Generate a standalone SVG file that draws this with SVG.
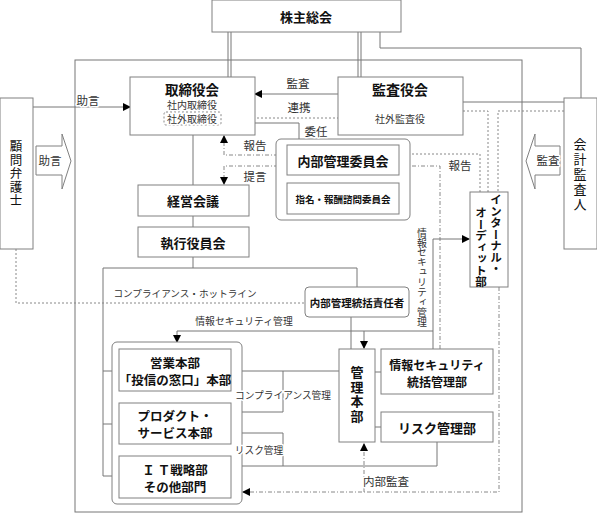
<svg xmlns="http://www.w3.org/2000/svg" width="597" height="514" viewBox="0 0 597 514">
<style>
.box{fill:#fff;stroke:#808080;stroke-width:1}
.ln{fill:none;stroke:#777;stroke-width:1}
.dot{fill:none;stroke:#888;stroke-width:1;stroke-dasharray:2,2}
.dd{fill:none;stroke:#888;stroke-width:1;stroke-dasharray:4,2,1,2}
.t{font-family:"Noto Sans CJK JP","Noto Sans",sans-serif;font-weight:bold;fill:#111;text-anchor:middle;dominant-baseline:central}
.l{font-family:"Noto Sans CJK JP","Noto Sans",sans-serif;fill:#333;text-anchor:middle;dominant-baseline:central;stroke:#fff;stroke-width:3px;paint-order:stroke;stroke-linejoin:round}
.v{writing-mode:vertical-rl}
</style>
<defs>
<marker id="ah" markerUnits="userSpaceOnUse" markerWidth="8" markerHeight="8" refX="7" refY="4" orient="auto">
<path d="M0,0 L8,4 L0,8 z" fill="#000"/>
</marker>
</defs>

<g id="connectors">
<rect x="75" y="60" width="447" height="452" class="ln"/>
<path class="ln" d="M228,32V77M231,32V77M358,32V77M361,32V77"/>
<path class="ln" d="M380,32V48H581V98"/>
<path class="ln" d="M33,107H130" marker-end="url(#ah)"/>
<path class="ln" d="M338,94H255" marker-end="url(#ah)"/>
<path class="dot" d="M221,118H338"/>
<path class="ln" d="M463,102H564"/>
<path class="dot" d="M463,111H488V192"/>
<path class="dot" d="M564,111H498V192"/>
<path class="ln" d="M255,123H299V139"/>
<path class="ln" d="M193,135V185M193,216V227M193,257V268"/>
<path class="dd" d="M287,155H224V136" marker-end="url(#ah)"/>
<path class="dd" d="M287,166H224V184" marker-end="url(#ah)"/>
<path class="dot" d="M480,192V154H400" marker-end="url(#ah)"/>
<path class="dd" d="M440,349V166H400" marker-end="url(#ah)"/>
<path class="ln" d="M357,287V268H103V476"/>
<path class="ln" d="M103,371H119M103,424H119M103,476H119"/>
<path class="dot" d="M16,249V303H305"/>
<path class="ln" d="M351,317V349"/>
<path class="ln" d="M433,349V239H469" marker-end="url(#ah)"/>
<path class="ln" d="M433,331H177V342" marker-end="url(#ah)"/>
<path class="ln" d="M364,331V348" marker-end="url(#ah)"/>
<path class="ln" d="M339,371H232" marker-end="url(#ah)"/>
<path class="ln" d="M283,371V412H232" marker-end="url(#ah)"/>
<path class="ln" d="M437,442V466H232" marker-end="url(#ah)"/>
<path class="ln" d="M283,466V433H232" marker-end="url(#ah)"/>
<path class="ln" d="M375,372H381M375,427H381"/>
<path class="dd" d="M499,287V492H243" marker-end="url(#ah)"/>
<path class="dd" d="M364,492V444" marker-end="url(#ah)"/>
</g>

<g id="n-shareholders">
<rect class="box" x="212" y="0" width="189" height="32"/>
<text class="t" x="306" y="16" font-size="13">株主総会</text>
</g>

<g id="n-board">
<rect class="box" x="130" y="77" width="125" height="58"/>
<text class="t" x="192" y="89" font-size="13.5">取締役会</text>
<text class="l" x="192" y="104" font-size="10">社内取締役</text>
<rect x="164" y="112" width="57" height="13" rx="2" class="dot"/>
<text class="l" x="192" y="118.5" font-size="10">社外取締役</text>
</g>

<g id="n-auditors">
<rect class="box" x="338" y="77" width="125" height="58"/>
<text class="t" x="400" y="89" font-size="14">監査役会</text>
<text class="l" x="400" y="118" font-size="10">社外監査役</text>
</g>

<g id="n-lawyer">
<rect class="box" x="0" y="98" width="33" height="151"/>
<text class="t v" x="16" y="174" font-size="12.5" style="font-weight:normal;letter-spacing:1px">顧問弁護士</text>
</g>

<g id="n-advice-arrow">
<path class="box" d="M36,146H62V134L71,161L62,189V175H36Z"/>
<text class="l" x="50" y="160" font-size="11.5">助言</text>
</g>

<g id="n-accountant">
<rect class="box" x="564" y="98" width="33" height="151"/>
<text class="t v" x="580" y="175" font-size="13" style="font-weight:normal;letter-spacing:2px">会計監査人</text>
</g>

<g id="n-audit-arrow">
<path class="box" d="M560,146H535V134L526,161L535,189V175H560Z"/>
<text class="l" x="548" y="160" font-size="11.5">監査</text>
</g>

<g id="n-committees">
<rect class="box" x="276" y="139" width="134" height="81" rx="5"/>
<rect class="box" x="287" y="145" width="112" height="30"/>
<text class="t" x="343" y="160" font-size="13">内部管理委員会</text>
<rect class="box" x="287" y="183" width="112" height="31"/>
<text class="t" x="343" y="198.5" font-size="9.5">指名・報酬諮問委員会</text>
</g>

<g id="n-mgmt-meeting">
<rect class="box" x="138" y="185" width="111" height="31"/>
<text class="t" x="193" y="200.5" font-size="13">経営会議</text>
</g>

<g id="n-exec">
<rect class="box" x="138" y="227" width="111" height="30"/>
<text class="t" x="193" y="242" font-size="13">執行役員会</text>
</g>

<g id="n-ia">
<rect class="box" x="470" y="192" width="38" height="95"/>
<text class="t v" x="496" y="194" font-size="11.5" style="text-anchor:start">インターナル・</text>
<text class="t v" x="481" y="207" font-size="11.5" style="text-anchor:start">オーディット部</text>
</g>

<g id="n-officer">
<rect class="box" x="305" y="287" width="104" height="30" rx="4"/>
<text class="t" x="357" y="302" font-size="10.5">内部管理統括責任者</text>
</g>

<g id="n-depts">
<rect class="box" x="112" y="342" width="130" height="162" rx="5"/>
<rect class="box" x="119" y="349" width="112" height="42"/>
<text class="t" x="175" y="362" font-size="12.5">営業本部</text>
<text class="t" x="175" y="379" font-size="12.5">「投信の窓口」本部</text>
<rect class="box" x="119" y="403" width="112" height="41"/>
<text class="t" x="175" y="415.5" font-size="12.5">プロダクト・</text>
<text class="t" x="175" y="432" font-size="12.5">サービス本部</text>
<rect class="box" x="119" y="456" width="112" height="42"/>
<text class="t" x="175" y="469" font-size="12.5">Ｉ Ｔ戦略部</text>
<text class="t" x="175" y="486" font-size="12.5">その他部門</text>
</g>

<g id="n-admin">
<rect class="box" x="339" y="349" width="36" height="93"/>
<text class="t v" x="357" y="395" font-size="13" style="letter-spacing:1.5px">管理本部</text>
</g>

<g id="n-infosec">
<rect class="box" x="381" y="349" width="112" height="45"/>
<text class="t" x="437" y="364.5" font-size="12">情報セキュリティ</text>
<text class="t" x="437" y="381" font-size="12">統括管理部</text>
</g>

<g id="n-risk">
<rect class="box" x="381" y="412" width="112" height="30"/>
<text class="t" x="437" y="427" font-size="13">リスク管理部</text>
</g>

<g id="labels">
<text class="l" x="88" y="100" font-size="11.5">助言</text>
<text class="l" x="298" y="83" font-size="11.5">監査</text>
<text class="l" x="299" y="107" font-size="11.5">連携</text>
<text class="l" x="316" y="131" font-size="11.5">委任</text>
<text class="l" x="255" y="145" font-size="11.5">報告</text>
<text class="l" x="255" y="176" font-size="11.5">提言</text>
<text class="l" x="460" y="165" font-size="11.5">報告</text>
<text class="l" x="185" y="293" font-size="9.6">コンプライアンス・ホットライン</text>
<text class="l" x="244" y="321" font-size="9.8">情報セキュリティ管理</text>
<text class="l v" x="422" y="228" font-size="9.9" style="text-anchor:start">情報セキュリティ管理</text>
<text class="l" x="283" y="395" font-size="9.7">コンプライアンス管理</text>
<text class="l" x="259" y="450" font-size="9.7">リスク管理</text>
<text class="l" x="386" y="481" font-size="11.5">内部監査</text>
</g>
</svg>
